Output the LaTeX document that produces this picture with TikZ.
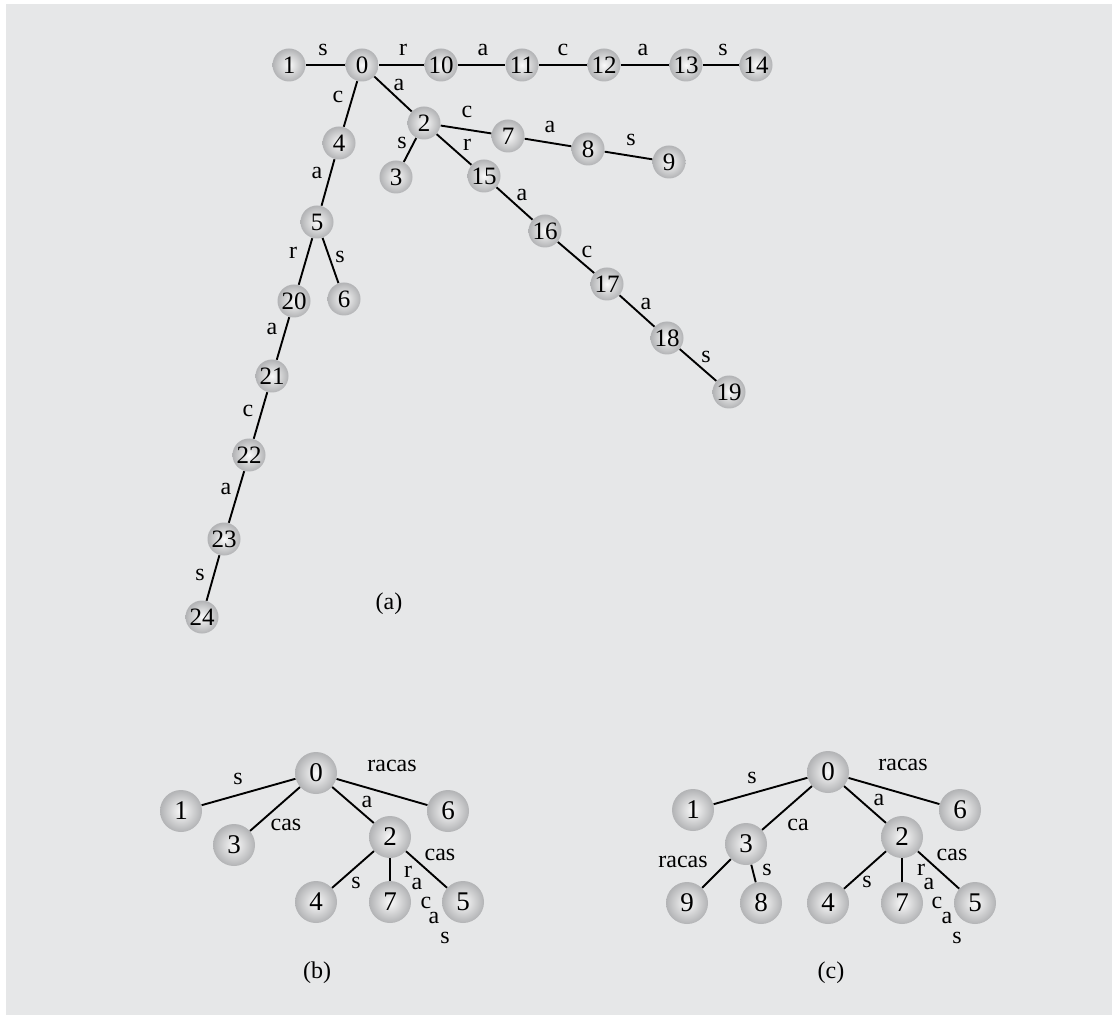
\documentclass[tikz,border=0pt]{standalone}
\usepackage{fontspec}
\setmainfont{Liberation Serif}
\usepackage{tikz}
\usetikzlibrary{positioning}

\definecolor{panelgray}{RGB}{230,231,232}
\definecolor{ballin}{RGB}{250,250,250}
\definecolor{ballout}{RGB}{178,179,181}

\begin{document}
\begin{tikzpicture}[
  x=0.5pt, y=-0.5pt,
  font=\fontsize{12}{14}\selectfont,
  tnode/.style={circle, inner sep=0pt, minimum size=16.5pt,
    shading=radial, inner color=ballin, outer color=ballout,
    font=\fontsize{12.5}{14}\selectfont},
  bignode/.style={tnode, minimum size=21pt, font=\fontsize{13.5}{15}\selectfont},
  edge/.style={line width=0.95pt, black},
  lbl/.style={inner sep=0pt},
]
\useasboundingbox (0,0) rectangle (1112,1015);
\fill[panelgray] (6,4) rectangle (1120,1020);

% === (a) trie ===
\node[tnode] (a1) at (289,65) {1};
\node[tnode] (a0) at (362,65) {0};
\node[tnode] (a10) at (441,65) {10};
\node[tnode] (a11) at (522,65) {11};
\node[tnode] (a12) at (604,65) {12};
\node[tnode] (a13) at (686,65) {13};
\node[tnode] (a14) at (756,65) {14};

\node[tnode] (a2) at (424,123) {2};
\node[tnode] (a7) at (508,136) {7};
\node[tnode] (a8) at (588,149) {8};
\node[tnode] (a9) at (669,162) {9};
\node[tnode] (a3) at (396,177) {3};
\node[tnode] (a15) at (484,176) {15};
\node[tnode] (a16) at (545,231) {16};
\node[tnode] (a17) at (607,284) {17};
\node[tnode] (a18) at (667,338) {18};
\node[tnode] (a19) at (729,392) {19};

\node[tnode] (a4) at (339,143) {4};
\node[tnode] (a5) at (317,222) {5};
\node[tnode] (a6) at (344,299) {6};
\node[tnode] (a20) at (294,301) {20};
\node[tnode] (a21) at (272,376) {21};
\node[tnode] (a22) at (249,455) {22};
\node[tnode] (a23) at (224,539) {23};
\node[tnode] (a24) at (202,617) {24};

\draw[edge] (a1) -- (a0);
\draw[edge] (a0) -- (a10);
\draw[edge] (a10) -- (a11);
\draw[edge] (a11) -- (a12);
\draw[edge] (a12) -- (a13);
\draw[edge] (a13) -- (a14);
\draw[edge] (a0) -- (a2);
\draw[edge] (a2) -- (a7);
\draw[edge] (a7) -- (a8);
\draw[edge] (a8) -- (a9);
\draw[edge] (a2) -- (a3);
\draw[edge] (a2) -- (a15);
\draw[edge] (a15) -- (a16);
\draw[edge] (a16) -- (a17);
\draw[edge] (a17) -- (a18);
\draw[edge] (a18) -- (a19);
\draw[edge] (a0) -- (a4);
\draw[edge] (a4) -- (a5);
\draw[edge] (a5) -- (a20);
\draw[edge] (a5) -- (a6);
\draw[edge] (a20) -- (a21);
\draw[edge] (a21) -- (a22);
\draw[edge] (a22) -- (a23);
\draw[edge] (a23) -- (a24);

\node[lbl] (la1) at (323,50) {s};
\node[lbl] (la2) at (403,50) {r};
\node[lbl] (la3) at (483,50) {a};
\node[lbl] (la4) at (563,50) {c};
\node[lbl] (la5) at (643,50) {a};
\node[lbl] (la6) at (723,50) {s};
\node[lbl] (la7) at (399,85) {a};
\node[lbl] (la8) at (338,97) {c};
\node[lbl] (la9) at (467,112) {c};
\node[lbl] (la10) at (402,143) {s};
\node[lbl] (la11) at (467,145) {r};
\node[lbl] (la12) at (550,127) {a};
\node[lbl] (la13) at (631,140) {s};
\node[lbl] (la14) at (522,195) {a};
\node[lbl] (la15) at (587,252) {c};
\node[lbl] (la16) at (646,304) {a};
\node[lbl] (la17) at (706,357) {s};
\node[lbl] (la18) at (317,173) {a};
\node[lbl] (la19) at (293,253) {r};
\node[lbl] (la20) at (340,257) {s};
\node[lbl] (la21) at (272,329) {a};
\node[lbl] (la22) at (248,411) {c};
\node[lbl] (la23) at (226,489) {a};
\node[lbl] (la24) at (200,575) {s};

\node (capa) at (389,604) {(a)};

% === (b) ===
\node[bignode] (b0) at (316,773) {0};
\node[bignode] (b1) at (181,811) {1};
\node[bignode] (b3) at (234,845) {3};
\node[bignode] (b2) at (390,837) {2};
\node[bignode] (b6) at (448,811) {6};
\node[bignode] (b4) at (316,902) {4};
\node[bignode] (b7) at (390,902) {7};
\node[bignode] (b5) at (463,902) {5};

\draw[edge] (b0) -- (b1);
\draw[edge] (b0) -- (b3);
\draw[edge] (b0) -- (b2);
\draw[edge] (b0) -- (b6);
\draw[edge] (b2) -- (b4);
\draw[edge] (b2) -- (b7);
\draw[edge] (b2) -- (b5);

\node[lbl] (lb1) at (238,779) {s};
\node[lbl] (lb2) at (286,825) {cas};
\node[lbl] (lb3) at (367,802) {a};
\node[lbl] (lb4) at (392,766) {racas};
\node[lbl] (lb5) at (440,855) {cas};
\node[lbl] (lb6) at (356,883) {s};
\node[lbl] (lb7) at (408,872) {r};
\node[lbl] (lb8) at (417,884) {a};
\node[lbl] (lb9) at (426,903) {c};
\node[lbl] (lb10) at (434,918) {a};
\node[lbl] (lb11) at (445,938) {s};

\node (capb) at (317,973) {(b)};

% === (c) ===
\node[bignode] (c0) at (828,772) {0};
\node[bignode] (c1) at (693,810) {1};
\node[bignode] (c6) at (960,810) {6};
\node[bignode] (c3) at (746,844) {3};
\node[bignode] (c2) at (902,837) {2};
\node[bignode] (c9) at (687,903) {9};
\node[bignode] (c8) at (761,903) {8};
\node[bignode] (c4) at (828,903) {4};
\node[bignode] (c7) at (902,903) {7};
\node[bignode] (c5) at (975,903) {5};

\draw[edge] (c0) -- (c1);
\draw[edge] (c0) -- (c3);
\draw[edge] (c0) -- (c2);
\draw[edge] (c0) -- (c6);
\draw[edge] (c3) -- (c9);
\draw[edge] (c3) -- (c8);
\draw[edge] (c2) -- (c4);
\draw[edge] (c2) -- (c7);
\draw[edge] (c2) -- (c5);

\node[lbl] (lc1) at (752,778) {s};
\node[lbl] (lc2) at (798,825) {ca};
\node[lbl] (lc3) at (879,800) {a};
\node[lbl] (lc4) at (903,765) {racas};
\node[lbl] (lc5) at (683,862) {racas};
\node[lbl] (lc6) at (767,870) {s};
\node[lbl] (lc7) at (867,882) {s};
\node[lbl] (lc8) at (952,855) {cas};
\node[lbl] (lc9) at (921,870) {r};
\node[lbl] (lc10) at (929,884) {a};
\node[lbl] (lc11) at (937,903) {c};
\node[lbl] (lc12) at (947,918) {a};
\node[lbl] (lc13) at (957,938) {s};

\node (capc) at (831,973) {(c)};

\end{tikzpicture}
\end{document}
